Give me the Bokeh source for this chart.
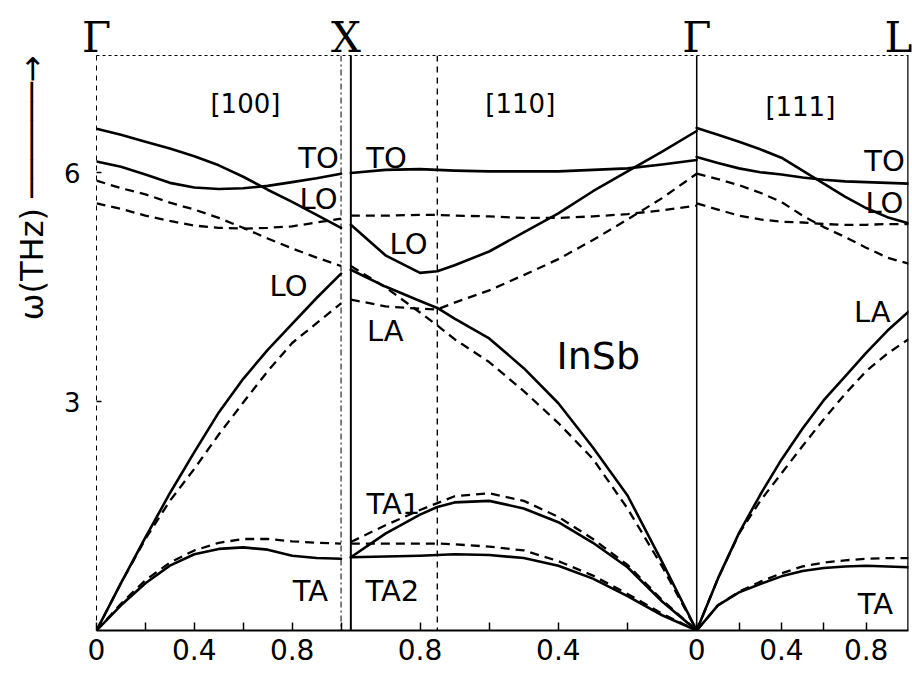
import math
from bokeh.plotting import figure
from bokeh.models import (Span, Label, LinearAxis, FixedTicker, Range1d,
                          ColumnDataSource, Title)
from bokeh.embed import file_html
from bokeh.resources import INLINE

# ---------------- data ----------------
# [100] direction: reduced wave vector zeta, Gamma (0) -> X (1)
q100 = [0.0, 0.1, 0.2, 0.3, 0.4, 0.5, 0.6, 0.7, 0.8, 0.9, 1.0]
s100_lo = [6.58, 6.50, 6.41, 6.32, 6.22, 6.10, 5.95, 5.78, 5.62, 5.45, 5.28]
s100_to = [6.15, 6.08, 5.98, 5.87, 5.81, 5.79, 5.80, 5.83, 5.88, 5.93, 5.99]
s100_la = [0.0, 0.62, 1.22, 1.80, 2.34, 2.86, 3.30, 3.68, 4.02, 4.36, 4.68]
s100_ta = [0.0, 0.33, 0.62, 0.85, 1.00, 1.07, 1.09, 1.06, 0.98, 0.95, 0.94]
d100_lo = [5.90, 5.80, 5.72, 5.61, 5.52, 5.41, 5.28, 5.14, 5.01, 4.89, 4.78]
d100_to = [5.60, 5.53, 5.44, 5.37, 5.31, 5.28, 5.27, 5.28, 5.30, 5.35, 5.40]
d100_la = [0.0, 0.62, 1.20, 1.70, 2.12, 2.57, 2.99, 3.40, 3.77, 4.03, 4.29]
d100_ta = [0.0, 0.35, 0.66, 0.89, 1.05, 1.15, 1.20, 1.20, 1.17, 1.15, 1.14]

# [110] direction: zeta, X (1) -> K (0.75) -> Gamma (0)
q110 = [1.0, 0.9, 0.8, 0.75, 0.7, 0.6, 0.5, 0.4, 0.3, 0.2, 0.1, 0.0]
s110_to = [6.00, 6.04, 6.05, 6.04, 6.03, 6.02, 6.02, 6.02, 6.04, 6.06, 6.11, 6.17]
s110_lo = [5.32, 4.92, 4.69, 4.71, 4.79, 4.97, 5.22, 5.47, 5.76, 6.02, 6.28, 6.55]
s110_la = [4.73, 4.51, 4.32, 4.23, 4.09, 3.83, 3.44, 2.98, 2.40, 1.77, 0.90, 0.0]
s110_ta1 = [0.96, 1.27, 1.52, 1.62, 1.68, 1.70, 1.60, 1.42, 1.15, 0.83, 0.38, 0.0]
s110_ta2 = [0.96, 0.97, 0.98, 0.99, 1.00, 0.99, 0.95, 0.85, 0.68, 0.45, 0.20, 0.0]
d110_to = [5.44, 5.44, 5.45, 5.45, 5.44, 5.43, 5.41, 5.41, 5.43, 5.46, 5.51, 5.57]
d110_lo = [4.34, 4.25, 4.22, 4.21, 4.30, 4.46, 4.66, 4.87, 5.12, 5.39, 5.67, 5.99]
d110_la = [4.78, 4.50, 4.17, 4.00, 3.82, 3.52, 3.14, 2.72, 2.25, 1.60, 0.84, 0.0]
d110_ta1 = [1.16, 1.38, 1.58, 1.67, 1.76, 1.80, 1.70, 1.49, 1.20, 0.86, 0.40, 0.0]
d110_ta2 = [1.14, 1.14, 1.14, 1.14, 1.13, 1.10, 1.05, 0.91, 0.72, 0.48, 0.22, 0.0]

# [111] direction: zeta (L = 1), Gamma (0) -> L (1)
q111 = [0.0, 0.1, 0.2, 0.3, 0.4, 0.5, 0.6, 0.7, 0.8, 0.9, 1.0]
s111_lo = [6.59, 6.50, 6.41, 6.31, 6.20, 6.03, 5.86, 5.69, 5.54, 5.42, 5.34]
s111_to = [6.21, 6.13, 6.06, 6.01, 5.98, 5.94, 5.91, 5.89, 5.88, 5.87, 5.86]
s111_la = [0.0, 0.68, 1.28, 1.78, 2.24, 2.65, 3.02, 3.33, 3.64, 3.93, 4.18]
s111_ta = [0.0, 0.33, 0.50, 0.61, 0.71, 0.78, 0.82, 0.84, 0.85, 0.84, 0.83]
d111_lo = [5.99, 5.92, 5.84, 5.74, 5.62, 5.44, 5.29, 5.16, 5.02, 4.89, 4.81]
d111_to = [5.60, 5.52, 5.44, 5.39, 5.36, 5.35, 5.33, 5.32, 5.32, 5.33, 5.33]
d111_la = [0.0, 0.68, 1.27, 1.70, 2.06, 2.42, 2.77, 3.10, 3.40, 3.63, 3.82]
d111_ta = [0.0, 0.33, 0.51, 0.64, 0.75, 0.84, 0.89, 0.92, 0.94, 0.95, 0.95]

# axis tick labels
bottom_tick_labels_100 = ["0", "", "0.4", "", "0.8", ""]
bottom_tick_labels_110 = ["0.8", "", "0.4", "", "0"]
bottom_tick_labels_111 = ["", "0.4", "", "0.8"]
top_labels = ["\u0393", "X", "\u0393", "L"]
y_ticks = [3, 6]
y_title = "\u03c9(THz)"

# ---------------- path geometry ----------------
SQ2 = math.sqrt(2.0)
LEN111 = math.sqrt(3.0) / 2.0
GAP = 0.04
X110 = 1.0 + GAP            # start of [110] segment (X)
GMID = X110 + SQ2           # Gamma in the middle
LEND = GMID + LEN111        # L point


def p100(q):
    return list(q)


def p110(z):
    return [X110 + (1.0 - v) * SQ2 for v in z]


def p111(z):
    return [GMID + v * LEN111 for v in z]


p = figure(width=912, height=677, x_range=Range1d(0, LEND), y_range=Range1d(0, 7.54),
           output_backend="svg", toolbar_location=None,
           min_border_left=96, min_border_right=4, min_border_top=55, min_border_bottom=47)
p.outline_line_color = None
p.grid.grid_line_color = None
p.background_fill_color = "white"
p.border_fill_color = "white"

SOLID_W = 2.6
DASH_W = 2.3
DASH = "9 6"


def draw(xs, ys, dashed):
    src = ColumnDataSource(dict(x=xs, y=ys))
    if dashed:
        p.line("x", "y", source=src, line_color="black", line_width=DASH_W, line_dash=DASH)
    else:
        p.line("x", "y", source=src, line_color="black", line_width=SOLID_W,
               line_join="round", line_cap="round")


for ys in (s100_lo, s100_to, s100_la, s100_ta):
    draw(p100(q100), ys, False)
for ys in (d100_lo, d100_to, d100_la, d100_ta):
    draw(p100(q100), ys, True)
for ys in (s110_to, s110_lo, s110_la, s110_ta1, s110_ta2):
    draw(p110(q110), ys, False)
for ys in (d110_to, d110_lo, d110_la, d110_ta1, d110_ta2):
    draw(p110(q110), ys, True)
for ys in (s111_lo, s111_to, s111_la, s111_ta):
    draw(p111(q111), ys, False)
for ys in (d111_lo, d111_to, d111_la, d111_ta):
    draw(p111(q111), ys, True)

# vertical boundary lines
p.add_layout(Span(location=1.0, dimension="height", line_color="black", line_width=1,
                  line_dash="6 3 2 3"))
p.add_layout(Span(location=X110, dimension="height", line_color="black", line_width=2))
p.add_layout(Span(location=X110 + 0.25 * SQ2, dimension="height", line_color="black",
                  line_width=1.4, line_dash="6 5"))
p.add_layout(Span(location=GMID, dimension="height", line_color="black", line_width=1.5))
p.add_layout(Span(location=LEND, dimension="height", line_color="black", line_width=2.5))

# bottom axis
ticks100 = [0.0, 0.2, 0.4, 0.6, 0.8, 1.0]
ticks110 = p110([0.8, 0.6, 0.4, 0.2, 0.0])
ticks111 = p111([0.2, 0.4, 0.6, 0.8])
all_ticks = ticks100 + ticks110 + ticks111
overrides = {}
for t, lab in zip(all_ticks, bottom_tick_labels_100 + bottom_tick_labels_110 + bottom_tick_labels_111):
    overrides[t] = lab
xa = p.xaxis[0]
xa.ticker = FixedTicker(ticks=all_ticks)
xa.major_label_overrides = overrides
xa.minor_tick_line_color = None
xa.major_tick_in = 8
xa.major_tick_out = 0
xa.major_tick_line_width = 1.5
xa.axis_line_width = 2
xa.major_label_standoff = 8
xa.major_label_text_font = "DejaVu Sans"
xa.major_label_text_font_size = "28px"
xa.major_label_text_color = "black"

# left axis (dashed frame line)
ya = p.yaxis[0]
ya.ticker = FixedTicker(ticks=y_ticks)
ya.minor_tick_line_color = None
ya.major_tick_in = 5
ya.major_tick_out = 0
ya.major_tick_line_width = 1.5
ya.axis_line_dash = "5 5"
ya.axis_line_width = 1
ya.major_label_standoff = 16
ya.major_label_text_font = "DejaVu Sans"
ya.major_label_text_font_size = "26px"
ya.major_label_text_color = "black"

# y title with an arrow, as a vertical title on the left (arrow tip at frame top)
p.add_layout(Title(text=y_title + " " + "\u2500" * 6 + "\u2192", align="right", offset=0,
                   standoff=20, text_font="DejaVu Sans", text_font_size="32px",
                   text_font_style="normal", text_color="black"), "left")

# top axis: symmetry points
top_ticks = [0.0, 1.02, GMID, LEND - 0.04]
top = LinearAxis(ticker=FixedTicker(ticks=top_ticks),
                 major_label_overrides=dict(zip(top_ticks, top_labels)))
top.minor_tick_line_color = None
top.major_tick_line_color = None
top.major_tick_in = 0
top.major_tick_out = 0
top.axis_line_dash = "3 3"
top.axis_line_width = 1
top.major_label_standoff = -6
top.major_label_text_font = "DejaVu Serif"
top.major_label_text_font_size = "42px"
top.major_label_text_color = "black"
p.add_layout(top, "above")

# branch and direction labels
labels = [
    ("[100]", 0.609, 6.91, "26px"), ("[110]", 1.733, 6.91, "26px"), ("[111]", 2.878, 6.87, "26px"),
    ("TO", 0.908, 6.19, "29px"), ("TO", 1.186, 6.19, "29px"), ("LO", 0.908, 5.66, "29px"),
    ("LO", 1.276, 5.07, "29px"), ("LO", 0.785, 4.52, "29px"), ("LA", 1.181, 3.93, "29px"),
    ("InSb", 2.052, 3.60, "38px"), ("TA1", 1.214, 1.66, "29px"), ("TA", 0.875, 0.52, "29px"),
    ("TA2", 1.210, 0.52, "29px"), ("LA", 3.172, 4.17, "29px"), ("TO", 3.222, 6.16, "29px"),
    ("LO", 3.222, 5.60, "29px"), ("TA", 3.185, 0.35, "29px"),
]
for txt, lx, ly, fs in labels:
    p.add_layout(Label(x=lx, y=ly, text=txt, text_align="center", text_baseline="middle",
                       text_font="DejaVu Sans", text_font_size=fs, text_color="black"))

open("out.html", "w").write(file_html(p, INLINE))
